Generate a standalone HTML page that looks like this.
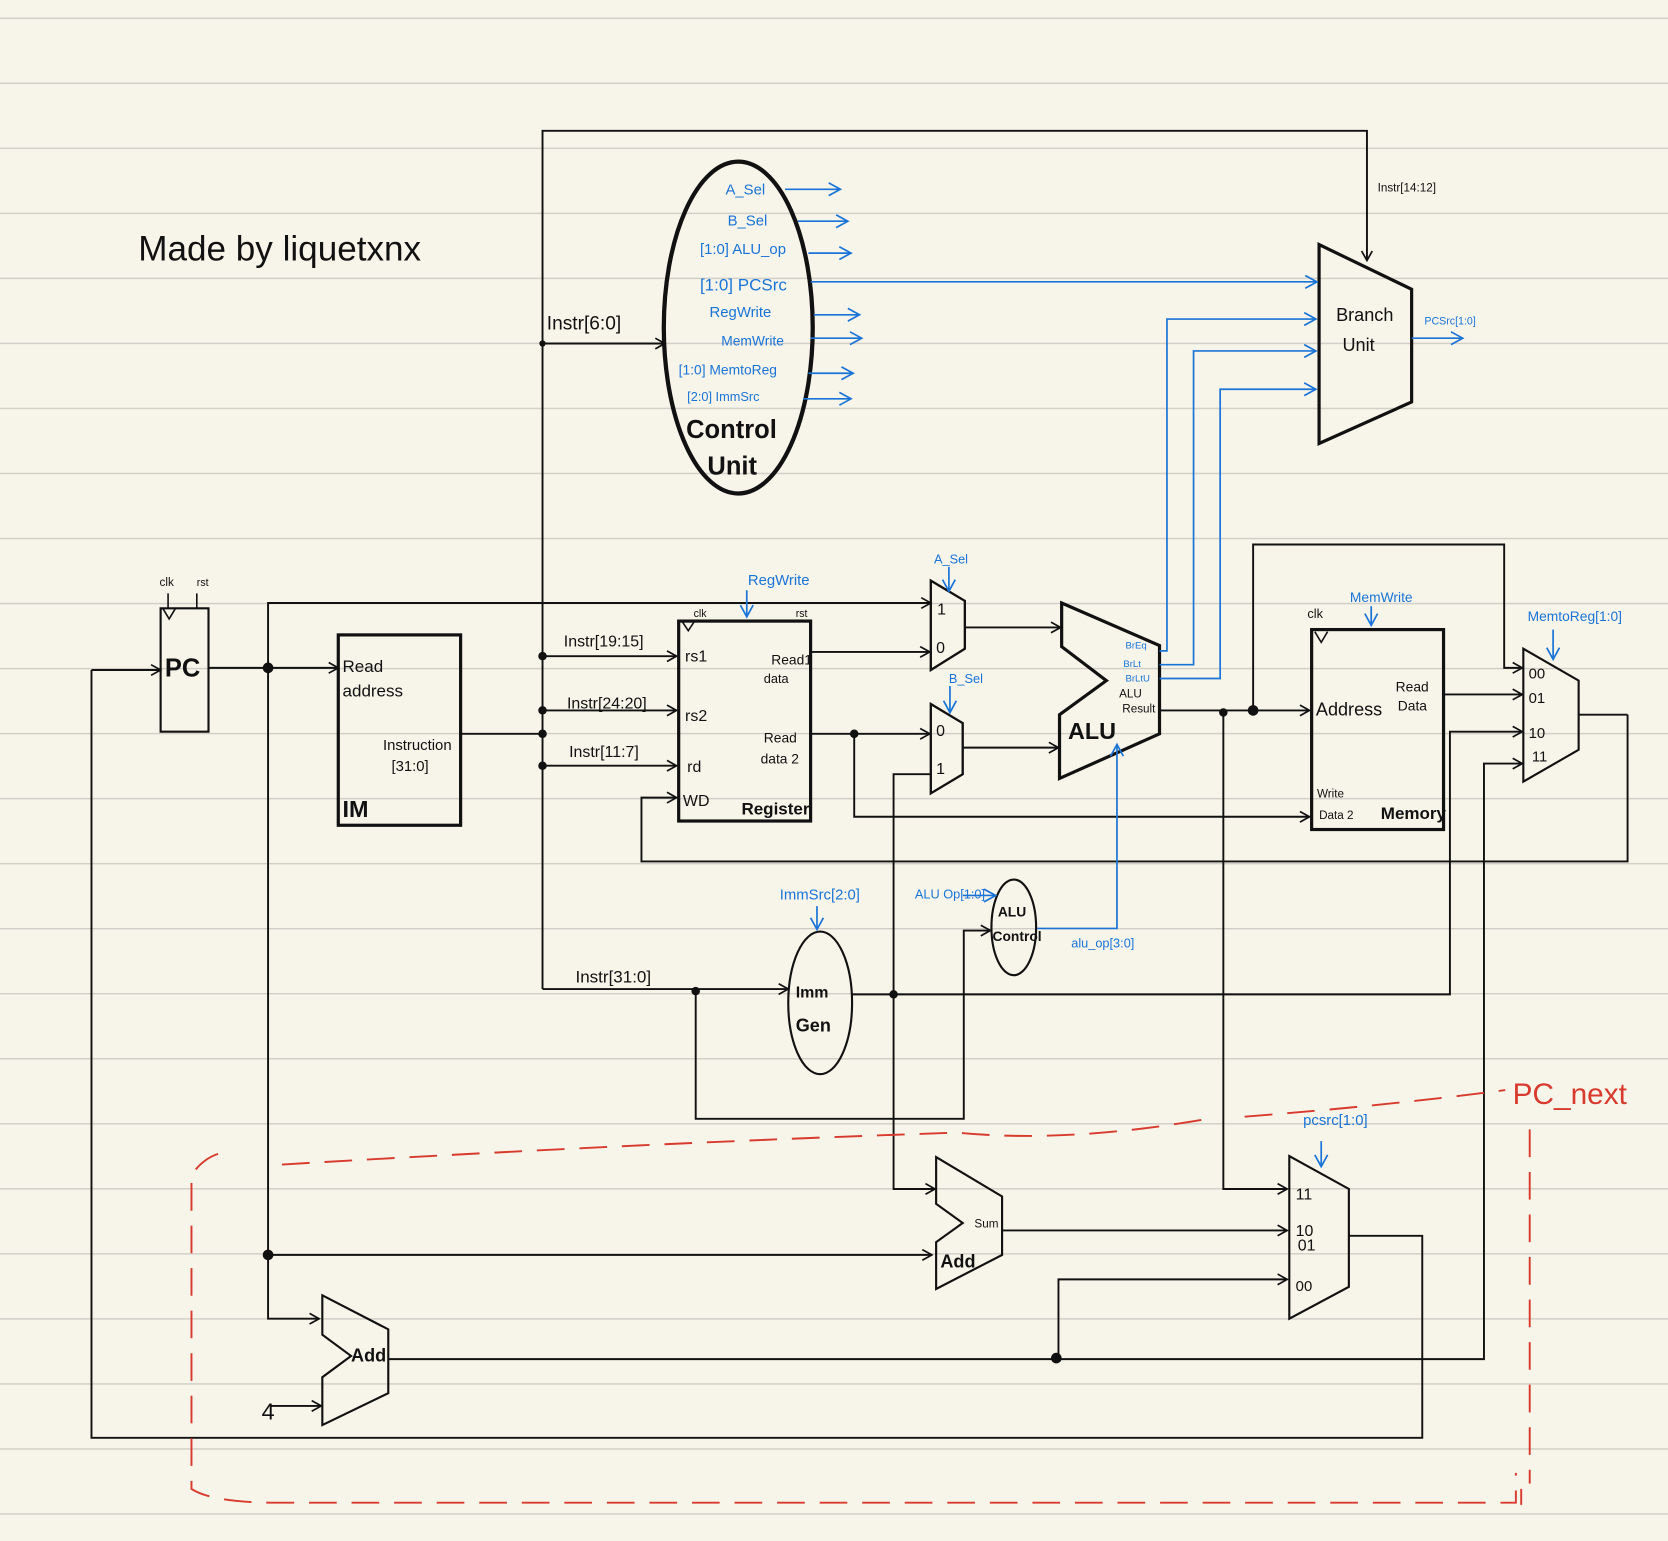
<!DOCTYPE html>
<html><head><meta charset="utf-8"><style>
html,body{margin:0;padding:0;background:#f7f4e9;}
svg{display:block;}
text{font-family:"Liberation Sans",sans-serif;}
</style></head><body>
<svg width="1668" height="1541" viewBox="0 0 1568 1449" preserveAspectRatio="none" xmlns="http://www.w3.org/2000/svg">
<defs>
<marker id="a" markerWidth="12" markerHeight="12" refX="10" refY="6" orient="auto" markerUnits="userSpaceOnUse"><path d="M1,1 L10,6 L1,11" fill="none" stroke="#111" stroke-width="1.6"/></marker>
<marker id="b" markerWidth="14" markerHeight="14" refX="12" refY="7" orient="auto" markerUnits="userSpaceOnUse"><path d="M1,1 L12,7 L1,13" fill="none" stroke="#1a74d8" stroke-width="1.6"/></marker>
<pattern id="lines" width="1568" height="61.15" patternUnits="userSpaceOnUse" y="16.5"><rect width="1568" height="61.15" fill="#f7f4e9"/><line x1="0" y1="0.5" x2="1568" y2="0.5" stroke="#cfcdc6" stroke-width="1.6"/></pattern>
</defs>
<rect width="1568" height="1449" fill="url(#lines)"/>
<text x="130" y="245" font-size="33" fill="#111">Made by liquetxnx</text>

<g fill="none" stroke="#111" stroke-width="1.8">
<path d="M510,930 V123 H1285 V245" marker-end="url(#a)"/>
<path d="M510,323 H625" marker-end="url(#a)"/>
<path d="M86,630 H151" marker-end="url(#a)"/>
<path d="M86,630 V1352 H1337 V1162 H1268"/>
<path d="M196,628 H318" marker-end="url(#a)"/>
<path d="M252,628 V567 H875" marker-end="url(#a)"/>
<path d="M252,628 V1240 H300" marker-end="url(#a)"/>
<path d="M252,1180 H876" marker-end="url(#a)"/>
<path d="M255,1322 H302" marker-end="url(#a)"/>
<path d="M433,690 H510"/>
<path d="M510,617 H636" marker-end="url(#a)"/>
<path d="M510,668 H636" marker-end="url(#a)"/>
<path d="M510,720 H636" marker-end="url(#a)"/>
<path d="M1530,672 V810 H603 V750 H636" marker-end="url(#a)"/>
<path d="M1484,672 H1530"/>
<path d="M762,613 H874" marker-end="url(#a)"/>
<path d="M762,690 H874" marker-end="url(#a)"/>
<path d="M803,690 V768 H1231" marker-end="url(#a)"/>
<path d="M907,590 H997" marker-end="url(#a)"/>
<path d="M905,703 H995" marker-end="url(#a)"/>
<path d="M1090,668 H1231" marker-end="url(#a)"/>
<path d="M1178,668 V512 H1414 V628 H1431" marker-end="url(#a)"/>
<path d="M1150,670 V1118 H1210" marker-end="url(#a)"/>
<path d="M1357,653 H1431" marker-end="url(#a)"/>
<path d="M800,935 H1363 V688 H1431" marker-end="url(#a)"/>
<path d="M365,1278 H1395 V718 H1431" marker-end="url(#a)"/>
<path d="M510,930 H741" marker-end="url(#a)"/>
<path d="M654,932 V1052 H906 V875 H931" marker-end="url(#a)"/>
<path d="M875,728 H840 V1118 H879" marker-end="url(#a)"/>
<path d="M942,1157 H1210" marker-end="url(#a)"/>
<path d="M995,1278 V1203 H1210" marker-end="url(#a)"/>
</g>
<g fill="#111">
<circle cx="252" cy="628" r="5"/><circle cx="252" cy="1180" r="5"/>
<circle cx="510" cy="617" r="4"/><circle cx="510" cy="668" r="4"/><circle cx="510" cy="690" r="4"/><circle cx="510" cy="720" r="4"/><circle cx="510" cy="323" r="3"/>
<circle cx="803" cy="690" r="4"/><circle cx="1150" cy="670" r="4"/><circle cx="1178" cy="668" r="5"/>
<circle cx="654" cy="932" r="4"/><circle cx="840" cy="935" r="4"/><circle cx="993" cy="1277" r="5"/>
</g>

<g fill="none" stroke="#111" stroke-width="3">
<ellipse cx="694" cy="308" rx="70" ry="156" stroke-width="4"/>
<polygon points="1240,230 1327,272 1327,378 1240,417"/>
<rect x="151" y="572" width="45" height="116" stroke-width="2"/>
<rect x="318" y="597" width="115" height="179"/>
<rect x="638" y="584" width="124" height="188"/>
<rect x="1233" y="592" width="124" height="188"/>
<polygon points="875,546 907,565 907,610 875,630" stroke-width="2.2"/>
<polygon points="875,662 905,680 905,728 875,746" stroke-width="2.2"/>
<polygon points="998,567 1090,607 1090,690 996,732 996,672 1040,640 998,608"/>
<polygon points="1432,610 1484,640 1484,705 1432,735" stroke-width="2"/>
<ellipse cx="953" cy="872" rx="21" ry="45" stroke-width="2"/>
<ellipse cx="771" cy="943" rx="30" ry="67" stroke-width="2"/>
<polygon points="880,1088 942,1125 942,1180 880,1212 880,1168 905,1150 880,1132" stroke-width="2"/>
<polygon points="1212,1087 1268,1118 1268,1210 1212,1240" stroke-width="2"/>
<polygon points="303,1218 365,1250 365,1310 303,1340 303,1295 330,1275 303,1255" stroke-width="2"/>
</g>
<path d="M153,572 l6,10 l6,-10 M641,584 l6,9 l6,-9 M1236,594 l6,10 l6,-10" fill="none" stroke="#111" stroke-width="1.5"/>
<path d="M158,572 v-14 M185,572 v-14" stroke="#111" stroke-width="1.5"/>

<g fill="none" stroke="#1a74d8" stroke-width="1.6">
<path d="M738,178 H790" marker-end="url(#b)"/>
<path d="M750,208 H797" marker-end="url(#b)"/>
<path d="M760,238 H800" marker-end="url(#b)"/>
<path d="M762,265 H1238" marker-end="url(#b)"/>
<path d="M765,296 H808" marker-end="url(#b)"/>
<path d="M762,318 H810" marker-end="url(#b)"/>
<path d="M760,351 H802" marker-end="url(#b)"/>
<path d="M755,375 H800" marker-end="url(#b)"/>
<path d="M1090,612 H1097 V300 H1237" marker-end="url(#b)"/>
<path d="M1090,625 H1122 V330 H1237" marker-end="url(#b)"/>
<path d="M1090,638 H1147 V366 H1237" marker-end="url(#b)"/>
<path d="M1327,318 H1375" marker-end="url(#b)"/>
<path d="M975,873 H1050 V700" marker-end="url(#b)"/>
<path d="M892,533 V556" marker-end="url(#b)"/>
<path d="M893,645 V670" marker-end="url(#b)"/>
<path d="M702,555 V580" marker-end="url(#b)"/>
<path d="M1289,570 V588" marker-end="url(#b)"/>
<path d="M1460,592 V620" marker-end="url(#b)"/>
<path d="M768,852 V874" marker-end="url(#b)"/>
<path d="M1242,1073 V1097" marker-end="url(#b)"/>
<path d="M905,842 H936" marker-end="url(#b)"/>
</g>
<g fill="#1a74d8" font-size="14">
<text x="682" y="183">A_Sel</text>
<text x="684" y="212">B_Sel</text>
<text x="658" y="239">[1:0] ALU_op</text>
<text x="658" y="273" font-size="16">[1:0] PCSrc</text>
<text x="667" y="298">RegWrite</text>
<text x="678" y="325" font-size="13">MemWrite</text>
<text x="638" y="352" font-size="13">[1:0] MemtoReg</text>
<text x="646" y="377" font-size="12">[2:0] ImmSrc</text>
<text x="1339" y="305" font-size="10">PCSrc[1:0]</text>
<text x="878" y="530" font-size="12">A_Sel</text>
<text x="892" y="642" font-size="12">B_Sel</text>
<text x="703" y="550">RegWrite</text>
<text x="1269" y="566" font-size="13">MemWrite</text>
<text x="1436" y="584" font-size="13">MemtoReg[1:0]</text>
<text x="733" y="846">ImmSrc[2:0]</text>
<text x="860" y="845" font-size="12">ALU Op[1:0]</text>
<text x="1007" y="891" font-size="12">alu_op[3:0]</text>
<text x="1225" y="1058">pcsrc[1:0]</text>
<text x="1058" y="610" font-size="9">BrEq</text>
<text x="1056" y="627" font-size="9">BrLt</text>
<text x="1058" y="641" font-size="9">BrLtU</text>
</g>

<g fill="#111">
<text x="645" y="412" font-size="24" font-weight="bold">Control</text>
<text x="665" y="446" font-size="24" font-weight="bold">Unit</text>
<text x="514" y="310" font-size="18">Instr[6:0]</text>
<text x="1295" y="180" font-size="11">Instr[14:12]</text>
<text x="1256" y="302" font-size="17">Branch</text>
<text x="1262" y="330" font-size="17">Unit</text>
<text x="150" y="551" font-size="11">clk</text><text x="185" y="551" font-size="10">rst</text>
<text x="155" y="636" font-size="24" font-weight="bold">PC</text>
<text x="322" y="632" font-size="16">Read</text>
<text x="322" y="655" font-size="16">address</text>
<text x="360" y="705" font-size="14">Instruction</text>
<text x="368" y="725" font-size="14">[31:0]</text>
<text x="322" y="768" font-size="22" font-weight="bold">IM</text>
<text x="530" y="608" font-size="15">Instr[19:15]</text>
<text x="533" y="666" font-size="15">Instr[24:20]</text>
<text x="535" y="712" font-size="15">Instr[11:7]</text>
<text x="644" y="622" font-size="15">rs1</text>
<text x="644" y="678" font-size="15">rs2</text>
<text x="646" y="726" font-size="15">rd</text>
<text x="642" y="758" font-size="15">WD</text>
<text x="652" y="580" font-size="10">clk</text><text x="748" y="580" font-size="10">rst</text>
<text x="725" y="625" font-size="13">Read1</text><text x="718" y="642" font-size="12">data</text>
<text x="718" y="698" font-size="13">Read</text><text x="715" y="718" font-size="13">data 2</text>
<text x="697" y="766" font-size="16" font-weight="bold">Register</text>
<text x="881" y="578" font-size="15">1</text><text x="880" y="614" font-size="15">0</text>
<text x="880" y="692" font-size="15">0</text><text x="880" y="728" font-size="15">1</text>
<text x="1004" y="695" font-size="22" font-weight="bold">ALU</text>
<text x="1052" y="656" font-size="11">ALU</text><text x="1055" y="670" font-size="11">Result</text>
<text x="1229" y="581" font-size="12">clk</text>
<text x="1237" y="673" font-size="17">Address</text>
<text x="1312" y="650" font-size="13">Read</text><text x="1314" y="668" font-size="13">Data</text>
<text x="1238" y="750" font-size="11">Write</text><text x="1240" y="770" font-size="11">Data 2</text>
<text x="1298" y="770" font-size="16" font-weight="bold">Memory</text>
<text x="1437" y="638" font-size="14">00</text><text x="1437" y="661" font-size="14">01</text>
<text x="1437" y="694" font-size="14">10</text><text x="1440" y="716" font-size="14">11</text>
<text x="938" y="862" font-size="13" font-weight="bold">ALU</text>
<text x="933" y="885" font-size="13" font-weight="bold">Control</text>
<text x="541" y="924" font-size="16">Instr[31:0]</text>
<text x="748" y="938" font-size="15" font-weight="bold">Imm</text>
<text x="748" y="970" font-size="17" font-weight="bold">Gen</text>
<text x="916" y="1154" font-size="11">Sum</text>
<text x="884" y="1192" font-size="17" font-weight="bold">Add</text>
<text x="1218" y="1128" font-size="15">11</text>
<text x="1218" y="1162" font-size="15">10</text>
<text x="1220" y="1176" font-size="15">01</text>
<text x="1218" y="1214" font-size="14">00</text>
<text x="330" y="1280" font-size="17" font-weight="bold">Add</text>
<text x="246" y="1335" font-size="22">4</text>
</g>

<g fill="none" stroke="#d83a2e" stroke-width="1.8" stroke-dasharray="26,14">
<path d="M205,1085 Q190,1090 180,1105 V1400 Q200,1413 260,1413 H1425 V1385"/>
<path d="M265,1095 Q600,1075 900,1065 Q1000,1075 1130,1053"/>
<path d="M1170,1050 Q1300,1040 1415,1025"/>
<path d="M1438,1062 V1395 M1430,1400 V1415"/>
</g>
<text x="1422" y="1038" font-size="28" fill="#d83a2e">PC_next</text>
</svg>
</body></html>
